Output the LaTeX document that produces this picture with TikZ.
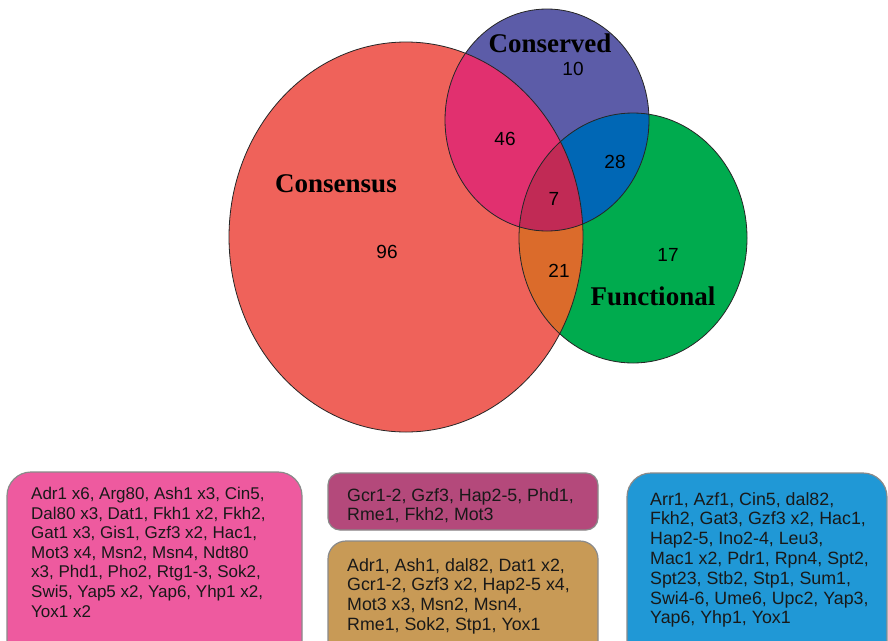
\documentclass[tikz,border=0pt]{standalone}
\usepackage{fontspec}
\newfontfamily\arialf{Liberation Sans}
\newfontfamily\timesf{Liberation Serif}
\definecolor{cred}{HTML}{EF625A}
\definecolor{cblue}{HTML}{5C5CA8}
\definecolor{cgreen}{HTML}{00AB4E}
\definecolor{crb}{HTML}{E1306F}
\definecolor{crg}{HTML}{DB6B2B}
\definecolor{cbg}{HTML}{0067B5}
\definecolor{call}{HTML}{C12A55}
\definecolor{bpink}{HTML}{EE5A9F}
\definecolor{bmaroon}{HTML}{B4497B}
\definecolor{btan}{HTML}{C89A56}
\definecolor{bblue}{HTML}{2098D6}
\definecolor{bedge}{HTML}{8A8A8A}
\tikzset{
  setlabel/.style={font=\timesf\bfseries\fontsize{27}{30}\selectfont, inner sep=0pt},
  countlabel/.style={font=\arialf\fontsize{19}{20}\selectfont, inner sep=0pt},
  listtext/.style={font=\arialf\fontsize{17.8}{19.8}\selectfont, inner sep=0pt, align=left, anchor=north west, text=black!90},
  listbox/.style={draw=bedge, line width=1.2pt},
  venn/.style={draw=black!85, line width=0.8pt}
}
\begin{document}
\begin{tikzpicture}[x=1pt,y=-1pt]
\clip (0,0) rectangle (888,640);
\fill[white] (0,0) rectangle (888,640);
% Venn fills
\fill[cred] (406,237) ellipse [x radius=177, y radius=195];
\fill[cblue] (547,120) ellipse [x radius=102, y radius=111];
\fill[cgreen] (633,238) ellipse [x radius=114, y radius=125];
\begin{scope}
  \clip (406,237) ellipse [x radius=177, y radius=195];
  \fill[crb] (547,120) ellipse [x radius=102, y radius=111];
\end{scope}
\begin{scope}
  \clip (406,237) ellipse [x radius=177, y radius=195];
  \fill[crg] (633,238) ellipse [x radius=114, y radius=125];
\end{scope}
\begin{scope}
  \clip (547,120) ellipse [x radius=102, y radius=111];
  \fill[cbg] (633,238) ellipse [x radius=114, y radius=125];
\end{scope}
\begin{scope}
  \clip (406,237) ellipse [x radius=177, y radius=195];
  \clip (547,120) ellipse [x radius=102, y radius=111];
  \fill[call] (633,238) ellipse [x radius=114, y radius=125];
\end{scope}
% Venn outlines
\draw[venn] (406,237) ellipse [x radius=177, y radius=195];
\draw[venn] (547,120) ellipse [x radius=102, y radius=111];
\draw[venn] (633,238) ellipse [x radius=114, y radius=125];
% set labels
\node[setlabel] (lcons) at (550,43) {Conserved};
\node[setlabel] (lconsen) at (336,184) {Consensus};
\node[setlabel] (lfunc) at (653,296) {Functional};
% counts
\node[countlabel] (n10) at (573,69) {10};
\node[countlabel] (n46) at (505,139) {46};
\node[countlabel] (n28) at (615,162) {28};
\node[countlabel] (n7) at (554,199) {7};
\node[countlabel] (n96) at (387,252) {96};
\node[countlabel] (n21) at (559,271) {21};
\node[countlabel] (n17) at (668,255) {17};
% list boxes
\draw[listbox, fill=bpink, rounded corners=24pt] (7,472) rectangle (302,670);
\draw[listbox, fill=bmaroon, rounded corners=12pt] (328,473) rectangle (598,530);
\draw[listbox, fill=btan, rounded corners=18pt] (328,541) rectangle (598,670);
\draw[listbox, fill=bblue, rounded corners=24pt] (627,473) rectangle (887,670);
\node[listtext, font=\arialf\fontsize{17}{19.6}\selectfont] (tpink) at (31,487) {Adr1 x6, Arg80, Ash1 x3, Cin5,\\Dal80 x3, Dat1, Fkh1 x2, Fkh2,\\Gat1 x3, Gis1, Gzf3 x2, Hac1,\\Mot3 x4, Msn2, Msn4, Ndt80\\x3, Phd1, Pho2, Rtg1-3, Sok2,\\Swi5, Yap5 x2, Yap6, Yhp1 x2,\\Yox1 x2};
\node[listtext] (tmaroon) at (347,488) {Gcr1-2, Gzf3, Hap2-5, Phd1,\\Rme1, Fkh2, Mot3};
\node[listtext] (ttan) at (347,558) {Adr1, Ash1, dal82, Dat1 x2,\\Gcr1-2, Gzf3 x2, Hap2-5 x4,\\Mot3 x3, Msn2, Msn4,\\Rme1, Sok2, Stp1, Yox1};
\node[listtext] (tblue) at (650,492) {Arr1, Azf1, Cin5, dal82,\\Fkh2, Gat3, Gzf3 x2, Hac1,\\Hap2-5, Ino2-4, Leu3,\\Mac1 x2, Pdr1, Rpn4, Spt2,\\Spt23, Stb2, Stp1, Sum1,\\Swi4-6, Ume6, Upc2, Yap3,\\Yap6, Yhp1, Yox1};
\end{tikzpicture}
\end{document}
